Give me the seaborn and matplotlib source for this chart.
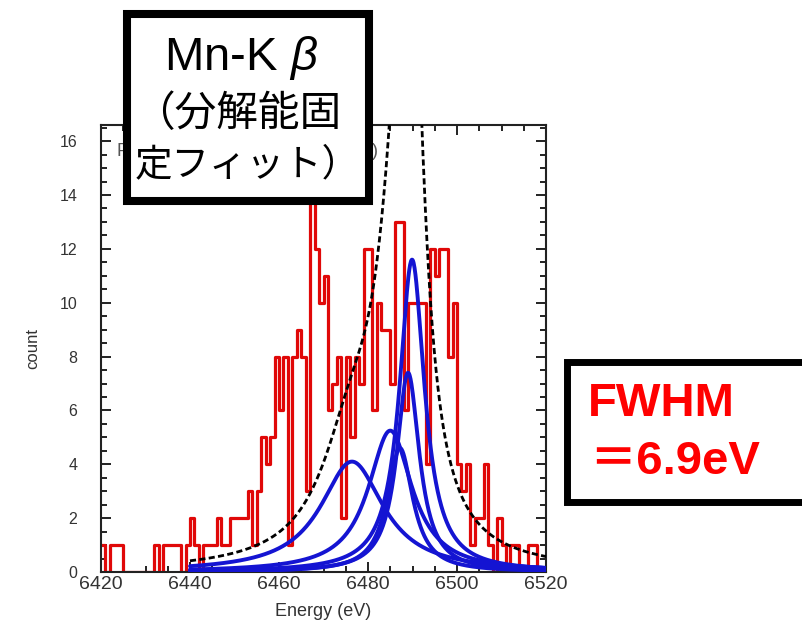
import numpy as np
import pandas as pd
import matplotlib
matplotlib.use("Agg")
import matplotlib.pyplot as plt
import seaborn as sns
from matplotlib.patches import Rectangle

# ---------------- data ----------------
bin_left = list(range(6420, 6520))          # 1 eV bins
counts = [1, 0, 1, 1, 1, 0, 0, 0, 0, 0,
          0, 0, 1, 0, 1, 1, 1, 1, 0, 1,
          2, 1, 0, 1, 1, 1, 2, 1, 1, 2,
          2, 2, 2, 3, 1, 3, 5, 4, 5, 8,
          6, 8, 1, 8, 9, 8, 3, 14, 12, 10,
          11, 6, 7, 8, 2, 8, 5, 8, 7, 12,
          12, 6, 10, 9, 9, 7, 13, 13, 6, 10,
          10, 10, 10, 4, 12, 11, 12, 12, 8, 10,
          4, 3, 4, 1, 2, 2, 4, 1, 0, 2,
          1, 0, 1, 1, 0, 0, 1, 1, 0, 0]

peak_centers = [6476.4, 6485.0, 6487.2, 6489.0, 6489.9]
peak_halfwidths = [8.6, 6.0, 3.5, 3.1, 3.4]
peak_heights = [4.1, 5.25, 4.6, 7.4, 11.6]
fit_range = [6440, 6520]

x_ticks = [6420, 6440, 6460, 6480, 6500, 6520]
y_ticks = [0, 2, 4, 6, 8, 10, 12, 14, 16]

title_line1 = r'Mn-K $\it{\beta}$'
title_line2 = '（分解能固'
title_line3 = '定フィット）'
fwhm_line1 = 'FWHM'
fwhm_line2 = '＝6.9eV'

# ---------------- style ----------------
sns.set_style("ticks")
plt.rcParams['font.family'] = ['Liberation Sans', 'DejaVu Sans']
plt.rcParams['mathtext.fontset'] = 'custom'
plt.rcParams['mathtext.it'] = 'Liberation Sans:italic'
plt.rcParams['mathtext.rm'] = 'Liberation Sans'

W, H = 802, 630
fig = plt.figure(figsize=(W / 100, H / 100), dpi=100)
fig.patch.set_facecolor('white')


def fx(px):
    return px / W


def fy(py):
    return 1 - py / H


ax = fig.add_axes([fx(101), fy(572), fx(546) - fx(101), fy(125) - fy(572)])

# histogram
edges = bin_left + [bin_left[-1] + 1]
centers = [b + 0.5 for b in bin_left]
sns.histplot(x=centers, weights=counts, bins=edges, element='step', fill=False,
             color='#e00808', linewidth=2.3, ax=ax, zorder=2)

# fit components
xg = np.linspace(fit_range[0], fit_range[1], 800)
comps = []
for c, g, h in zip(peak_centers, peak_halfwidths, peak_heights):
    yv = h / (1 + ((xg - c) / g) ** 2)
    comps.append(yv)
    sns.lineplot(x=xg, y=yv, color='#1414d2', linewidth=2.8, ax=ax, zorder=3)
total = np.sum(comps, axis=0)
sns.lineplot(x=xg, y=total, color='black', linewidth=2.0, ax=ax, zorder=4,
             linestyle=(0, (2.2, 1.2)))

ax.set_xlim(6420, 6520)
ax.set_ylim(0, 16.6)
ax.set_xticks(x_ticks)
ax.set_yticks(y_ticks)
ax.set_xticks(np.arange(6420, 6521, 5), minor=True)
ax.set_yticks(np.arange(0, 16.6, 0.5), minor=True)
ax.tick_params(which='both', direction='in', top=True, right=True, width=1.4,
               color='#222222')
ax.tick_params(which='major', length=7)
ax.tick_params(which='minor', length=4)
ax.tick_params(axis='x', which='major', labelsize=14, pad=3, labelcolor='#333333')
ax.tick_params(axis='y', which='major', labelsize=11.5, pad=17, labelcolor='#333333')
for s in ax.spines.values():
    s.set_linewidth(1.5)
    s.set_color('#222222')
ax.set_xlabel('Energy (eV)', fontsize=13, color='#333333', labelpad=7)
ax.set_ylabel('count', fontsize=12, color='#333333', labelpad=14)

# partially hidden text in plot (only edges visible)
ax.text(6423.5, 15.6, 'P', fontsize=13, color='#555555', va='center', ha='left')
ax.text(6482.3, 15.6, ')', fontsize=13, color='#555555', va='center', ha='right')

# ---------------- overlay boxes ----------------
box1 = Rectangle((fx(127), fy(201)), fx(369) - fx(127), fy(14) - fy(201),
                 transform=fig.transFigure, facecolor='white', edgecolor='black',
                 linewidth=5.8, zorder=10, clip_on=False)
fig.add_artist(box1)
fig.text(fx(241), fy(58), title_line1, fontsize=34, ha='center', va='center',
         color='black', zorder=11)
cjk = ['Noto Sans CJK JP', 'DejaVu Sans']
fig.text(fx(237), fy(114), title_line2, fontsize=30, ha='center', va='center',
         family=cjk, color='black', zorder=11)
fig.text(fx(247), fy(165), title_line3, fontsize=27, ha='center', va='center',
         family=cjk, color='black', zorder=11)

box2 = Rectangle((fx(566.5), fy(501.5)), fx(830) - fx(566.5), fy(361.5) - fy(501.5),
                 transform=fig.transFigure, facecolor='white', edgecolor='black',
                 linewidth=5.0, zorder=10, clip_on=False)
fig.add_artist(box2)
fig.text(fx(588), fy(404), fwhm_line1, fontsize=34, fontweight='bold', color='#ff0000',
         ha='left', va='center', zorder=11)
fig.text(fx(589), fy(462), fwhm_line2, fontsize=34, fontweight='bold', color='#ff0000',
         ha='left', va='center', family=['Liberation Sans', 'Noto Sans CJK JP'],
         zorder=11)

fig.savefig('out.png', dpi=100, facecolor='white')
